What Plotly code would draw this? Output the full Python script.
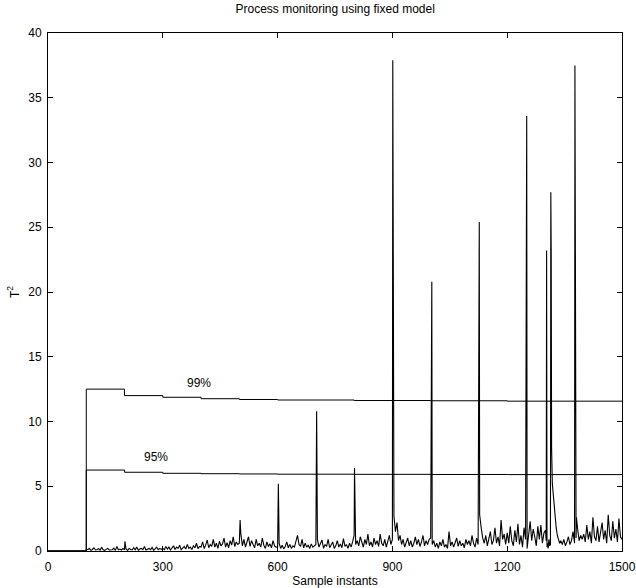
import plotly.graph_objects as go

# ---- control limits (step changes as the model statistics settle) ----
limit_x = [0, 100, 200, 300, 400, 500, 600, 800, 1000, 1200, 1500]
limit_99 = [0, 12.5, 12.0, 11.87, 11.76, 11.70, 11.66, 11.62, 11.60, 11.57, 11.55]
limit_95 = [0, 6.25, 6.08, 6.00, 5.97, 5.95, 5.93, 5.92, 5.91, 5.90, 5.90]

# ---- T^2 statistic: background readings, one value every 4 samples ----
lead_x = [0, 99]               # before monitoring begins
lead_y = [0, 0]

seg_100 = [0.15, 0.1, 0.2, 0.05, 0.12, 0.25, 0.08, 0.1, 0.18, 0.06, 0.3, 0.1, 0.05,
           0.15, 0.2, 0.08, 0.12, 0.1, 0.22, 0.05, 0.35, 0.1, 0.15, 0.08, 0.2]
seg_200 = [0.1, 0.15, 0.05, 0.2, 0.12, 0.08, 0.25, 0.1, 0.3, 0.06, 0.15, 0.2, 0.1,
           0.35, 0.08, 0.12, 0.2, 0.1, 0.28, 0.05, 0.15, 0.3, 0.1, 0.2, 0.12]
seg_300 = [0.2, 0.1, 0.35, 0.15, 0.3, 0.08, 0.25, 0.4, 0.12, 0.3, 0.2, 0.45, 0.1,
           0.25, 0.35, 0.15, 0.5, 0.2, 0.3, 0.12, 0.4, 0.25, 0.6, 0.18, 0.35]
seg_400 = [0.3, 0.7, 0.2, 0.45, 0.85, 0.25, 0.5, 0.35, 0.9, 0.3, 0.6, 0.2, 0.75,
           0.4, 0.55, 1.0, 0.3, 0.65, 0.25, 0.8, 0.45, 1.1, 0.35, 0.7, 0.5]
seg_500 = [0.6, 1.3, 0.4, 0.9, 0.3, 0.7, 1.1, 0.35, 0.8, 0.5, 0.25, 0.9, 0.4,
           0.6, 0.3, 1.0, 0.45, 0.2, 0.7, 0.35, 0.55, 0.25, 0.8, 0.4, 0.3]
seg_600 = [0.3, 0.6, 0.2, 0.45, 0.15, 0.35, 0.7, 0.25, 0.5, 0.2, 0.4, 0.3, 0.8,
           1.2, 0.5, 0.35, 0.9, 0.25, 0.6, 0.3, 0.45, 0.2, 0.55, 0.3, 0.4]
seg_700 = [0.5, 0.9, 0.3, 0.6, 0.85, 0.2, 0.5, 0.35, 0.9, 0.25, 0.45, 0.7, 0.2,
           0.4, 0.8, 0.3, 0.55, 0.25, 0.95, 0.35, 0.5, 0.2, 0.6, 0.3, 0.7]
seg_800 = [1.2, 0.5, 0.8, 0.4, 1.1, 0.6, 0.3, 0.9, 0.5, 1.3, 0.4, 0.7, 0.3,
           1.0, 0.5, 0.8, 0.35, 1.3, 0.6, 0.4, 0.9, 0.3, 0.7, 1.2, 0.5]
seg_900 = [0.9, 2.7, 1.5, 2.2, 0.8, 1.2, 0.5, 0.9, 0.3, 0.7, 1.0, 0.4, 0.8,
           0.3, 0.6, 1.1, 0.5, 0.9, 0.35, 0.7, 1.2, 0.4, 0.8, 0.5, 0.9]
seg_1000 = [1.0, 0.5, 0.8, 0.3, 0.6, 0.2, 0.7, 0.4, 0.9, 0.3, 0.5, 0.2, 1.5,
            0.4, 0.7, 0.3, 0.6, 1.0, 0.35, 0.8, 0.4, 0.6, 0.25, 0.9, 0.5]
seg_1100 = [0.8, 0.4, 1.2, 0.6, 0.3, 1.0, 0.5, 2.8, 1.8, 1.0, 0.6, 1.2, 0.4,
            0.9, 1.5, 0.5, 0.8, 1.8, 0.6, 1.1, 0.4, 2.4, 0.9, 1.3, 0.5]
seg_1200 = [1.4, 0.6, 1.9, 0.8, 0.4, 1.6, 0.7, 2.1, 0.5, 1.2, 0.3, 1.8, 0.9,
            0.2, 1.5, 2.3, 0.8, 1.7, 1.1, 0.4, 1.9, 0.9, 2.0, 0.6, 1.4]
seg_1340 = [0.8, 0.5, 0.9, 0.4, 0.7, 1.1, 0.5, 0.8, 1.5, 0.6, 1.0, 1.7, 0.8, 1.2, 0.9]
seg_1400 = [1.3, 0.7, 2.0, 0.9, 1.5, 0.6, 2.6, 1.1, 0.8, 1.9, 0.7, 1.4, 2.2,
            0.9, 1.6, 0.6, 2.8, 1.2, 0.8, 2.3, 1.0, 1.7, 0.7, 2.5, 1.1, 0.9]

# fault episode around sample 1300 (two alarms and a slow decay)
burst_x = [1300, 1302, 1303, 1304, 1305, 1307, 1309, 1311, 1313, 1314, 1315, 1316,
           1317, 1318, 1320, 1322, 1325, 1328, 1331, 1334, 1337]
burst_y = [1.6, 0.8, 23.2, 0.3, 0.6, 0.2, 0.9, 0.4, 0.5, 27.7, 23.0, 8.0,
           5.6, 5.2, 4.5, 3.6, 2.6, 1.8, 1.2, 0.9, 0.6]

# isolated alarm samples
spike_x = [201, 502, 602, 702, 801, 901, 1003, 1127, 1251, 1377, 1379, 1381]
spike_y = [0.75, 2.4, 5.2, 10.8, 6.4, 37.9, 20.8, 25.4, 33.6, 37.5, 4.8, 2.6]

# ---- assemble the series in sample order ----
points = dict(zip(lead_x, lead_y))
for start, seg in [(100, seg_100), (200, seg_200), (300, seg_300), (400, seg_400),
                   (500, seg_500), (600, seg_600), (700, seg_700), (800, seg_800),
                   (900, seg_900), (1000, seg_1000), (1100, seg_1100),
                   (1200, seg_1200), (1340, seg_1340), (1400, seg_1400)]:
    for i, y in enumerate(seg):
        points[start + 4 * i] = y
points.update(zip(burst_x, burst_y))
points.update(zip(spike_x, spike_y))

t2_x = sorted(points)
t2_y = [points[x] for x in t2_x]

x_ticks = [0, 300, 600, 900, 1200, 1500]
y_ticks = [0, 5, 10, 15, 20, 25, 30, 35, 40]

font = dict(family="Liberation Sans, Arial, sans-serif", size=12, color="black")

fig = go.Figure()
fig.add_trace(go.Scatter(x=t2_x, y=t2_y, mode="lines",
                         line=dict(color="black", width=1.1), showlegend=False))
fig.add_trace(go.Scatter(x=limit_x, y=limit_99, mode="lines", line_shape="hv",
                         line=dict(color="black", width=1), showlegend=False))
fig.add_trace(go.Scatter(x=limit_x, y=limit_95, mode="lines", line_shape="hv",
                         line=dict(color="black", width=1), showlegend=False))

fig.add_annotation(x=395, y=13.0, text="99%", showarrow=False, font=font)
fig.add_annotation(x=283, y=7.25, text="95%", showarrow=False, font=font)

axis_common = dict(showline=True, linecolor="black", linewidth=1, mirror="ticks",
                   ticks="inside", ticklen=5, tickcolor="black", showgrid=False,
                   zeroline=False, tickfont=font, automargin=False)

fig.update_xaxes(range=[0, 1500], tickvals=x_ticks, ticktext=[str(v) for v in x_ticks],
                 ticklabelstandoff=5,
                 title=dict(text="Sample instants", font=font, standoff=4),
                 **axis_common)
fig.update_yaxes(range=[0, 40], tickvals=y_ticks, ticktext=[str(v) for v in y_ticks],
                 ticklabelstandoff=3,
                 title=dict(text="T<sup>2</sup>", font=font, standoff=6),
                 **axis_common)

fig.update_layout(
    width=636, height=588,
    margin=dict(l=48, r=14, t=33, b=37),
    paper_bgcolor="white", plot_bgcolor="white",
    font=font,
    title=dict(text="Process monitoring using fixed model", x=0.527, xanchor="center",
               y=0.992, yanchor="top", font=font),
)

fig.write_html("out.html")
